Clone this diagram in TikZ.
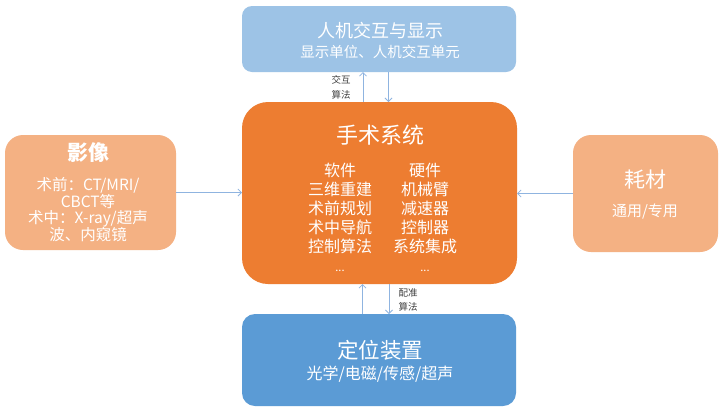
\documentclass[tikz,border=0pt]{standalone}
\usepackage{fontspec}
\setmainfont{Noto Sans CJK SC}
\usetikzlibrary{arrows.meta,calc}
\definecolor{lblue}{HTML}{9DC3E6}
\definecolor{mblue}{HTML}{5B9BD5}
\definecolor{orng}{HTML}{ED7D31}
\definecolor{lorng}{HTML}{F4B183}
\definecolor{arrc}{HTML}{8FB4E0}
\definecolor{lbltxt}{HTML}{404040}
\begin{document}
\begin{tikzpicture}[x=1pt,y=-1pt,
  box/.style={draw=none,inner sep=0pt,outer sep=0pt},
  txt/.style={text=white,inner sep=0pt,align=center},
  arr/.style={draw=arrc,line width=0.8pt,-{Straight Barb[length=3.5pt,width=7pt]}},
  lbl/.style={text=lbltxt,inner sep=0pt,align=center,font=\fontsize{9.5}{14.5}\selectfont}]
\useasboundingbox (0,0) rectangle (720,408);
\fill[white] (0,0) rectangle (720,408);
% boxes
\node[box,fill=lblue,rounded corners=10pt,minimum width=274pt,minimum height=66pt] (hmi) at (379,39) {};
\node[box,fill=orng,rounded corners=26pt,minimum width=275pt,minimum height=182pt] (sys) at (379.5,193) {};
\node[box,fill=mblue,rounded corners=13pt,minimum width=274pt,minimum height=92pt] (pos) at (379,360) {};
\node[box,fill=lorng,rounded corners=18pt,minimum width=171pt,minimum height=115pt] (img) at (90.5,192.5) {};
\node[box,fill=lorng,rounded corners=18pt,minimum width=145pt,minimum height=117pt] (mat) at (645.5,193.5) {};
% texts
\node[txt,font=\fontsize{18}{20}\selectfont] (hmit) at (380,31) {人机交互与显示};
\node[txt,font=\fontsize{14.5}{16}\selectfont] (hmis) at (380,52) {显示单位、人机交互单元};
\node[txt,font=\fontsize{22}{24}\selectfont] (syst) at (380,135) {手术系统};
\node[txt,anchor=north,font=\fontsize{16}{19}\selectfont] (sw) at (340,163) {软件\\三维重建\\术前规划\\术中导航\\控制算法\\{\fontsize{11}{19}\selectfont ...}};
\node[txt,anchor=north,font=\fontsize{16}{19}\selectfont] (hw) at (425,163) {硬件\\机械臂\\减速器\\控制器\\系统集成\\{\fontsize{11}{19}\selectfont ...}};
\node[txt,font=\fontsize{21}{23}\bfseries\selectfont] (imgt) at (88,153) {影像};
\node[txt,font=\fontsize{15.5}{15.5}\selectfont] (imgs) at (88,210) {术前：CT/MRI/\\CBCT等\\术中：X-ray/超声\\波、内窥镜};
\node[txt,font=\fontsize{21}{23}\selectfont] (matt) at (645,180) {耗材};
\node[txt,font=\fontsize{15}{17}\selectfont] (mats) at (645,212) {通用/专用};
\node[txt,font=\fontsize{21.5}{24}\selectfont] (post) at (380,350) {定位装置};
\node[txt,font=\fontsize{16}{18}\selectfont] (poss) at (380,374) {光学/电磁/传感/超声};
% connectors
\draw[arr] ([xshift=-16.5pt]sys.north) -- ([xshift=-16.5pt]sys.north |- hmi.south);
\draw[arr] ([xshift=9.5pt]hmi.south) -- ([xshift=9.5pt]hmi.south |- sys.north);
\draw[arr] ([xshift=-16.5pt]pos.north) -- ([xshift=-16.5pt]pos.north |- sys.south);
\draw[arr] ([xshift=9.5pt]sys.south) -- ([xshift=9.5pt]sys.south |- pos.north);
\draw[arr] (img.east) -- (img.east -| sys.west);
\draw[arr] (mat.west) -- (mat.west -| sys.east);
\node[lbl] (l1) at (341,87.5) {交互\\算法};
\node[lbl] (l2) at (408,300) {配准\\算法};
\end{tikzpicture}
\end{document}
